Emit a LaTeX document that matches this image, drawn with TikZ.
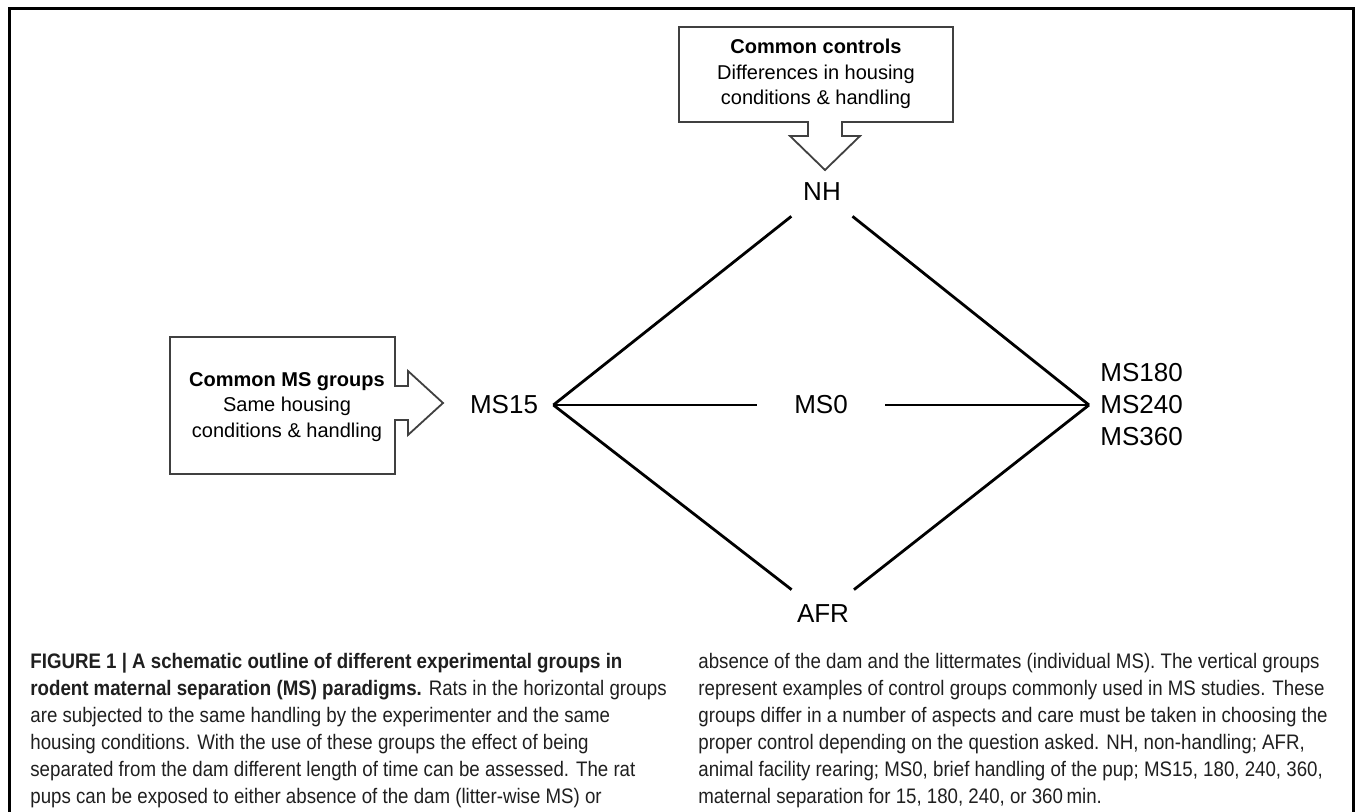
\documentclass[tikz,border=0pt]{standalone}
\usepackage{fontspec}
\setmainfont{Liberation Sans}
\newfontfamily\capfont[FakeStretch=0.89]{Liberation Sans}

\begin{document}
\begin{tikzpicture}[x=0.5pt,y=-0.5pt,
    grp/.style={font=\fontsize{13pt}{16pt}\selectfont,inner sep=7.5pt},
    link/.style={line width=1.4pt},
    callout/.style={line width=0.9pt,draw=black!75},
    boxtext/.style={font=\fontsize{10pt}{12.6pt}\selectfont,align=center,inner sep=0pt},
    captext/.style={font=\capfont\fontsize{10.5pt}{13.5pt}\selectfont,align=left,anchor=base west,inner sep=0pt,text=black!88}]
    \useasboundingbox (0,0) rectangle (1355,812);
    \draw[line width=1.5pt] (9.5,812) -- (9.5,9) -- (1353.5,9) -- (1353.5,812);

    \draw[callout] (679,27) -- (953,27) -- (953,122) -- (842,122) -- (842,136) -- (860,136)
        -- (825,170) -- (790,136) -- (808,136) -- (808,122) -- (679,122) -- cycle;
    \node[boxtext] (ctrlbox) at (816,74) {\textbf{Common controls}\\Differences in housing\\conditions \& handling};

    \draw[callout] (170,337) -- (395,337) -- (395,386) -- (408,386) -- (408,371) -- (443,403)
        -- (408,435) -- (408,420) -- (395,420) -- (395,474) -- (170,474) -- cycle;
    \node[boxtext] (msbox) at (287,407) {\textbf{Common MS groups}\\Same housing\\conditions \& handling};

    \node[grp] (nh) at (822,192) {NH};
    \node[grp] (afr) at (823,614) {AFR};
    \node[grp] (ms15) at (504,405) {MS15};
    \node[grp,inner xsep=18.5pt] (ms0) at (821,405) {MS0};
    \node[grp,align=left,anchor=west,inner xsep=5.5pt] (msr) at (1089,405) {MS180\\MS240\\MS360};

    \draw[link] (ms15.east) -- (nh);
    \draw[link] (nh) -- (msr.west);
    \draw[link] (ms15.east) -- (ms0);
    \draw[link] (ms0) -- (msr.west);
    \draw[link] (ms15.east) -- (afr);
    \draw[link] (afr) -- (msr.west);

    \node[captext] (capl) at (30,803) {\textbf{FIGURE 1 | A schematic outline of different experimental groups in}\\
        \textbf{rodent maternal separation (MS) paradigms.} Rats in the horizontal groups\\
        are subjected to the same handling by the experimenter and the same\\
        housing conditions. With the use of these groups the effect of being\\
        separated from the dam different length of time can be assessed. The rat\\
        pups can be exposed to either absence of the dam (litter-wise MS) or};
    \node[captext] (capr) at (698,803) {absence of the dam and the littermates (individual MS). The vertical groups\\
        represent examples of control groups commonly used in MS studies. These\\
        groups differ in a number of aspects and care must be taken in choosing the\\
        proper control depending on the question asked. NH, non-handling; AFR,\\
        animal facility rearing; MS0, brief handling of the pup; MS15, 180, 240, 360,\\
        maternal separation for 15, 180, 240, or 360\,min.};
\end{tikzpicture}
\end{document}
